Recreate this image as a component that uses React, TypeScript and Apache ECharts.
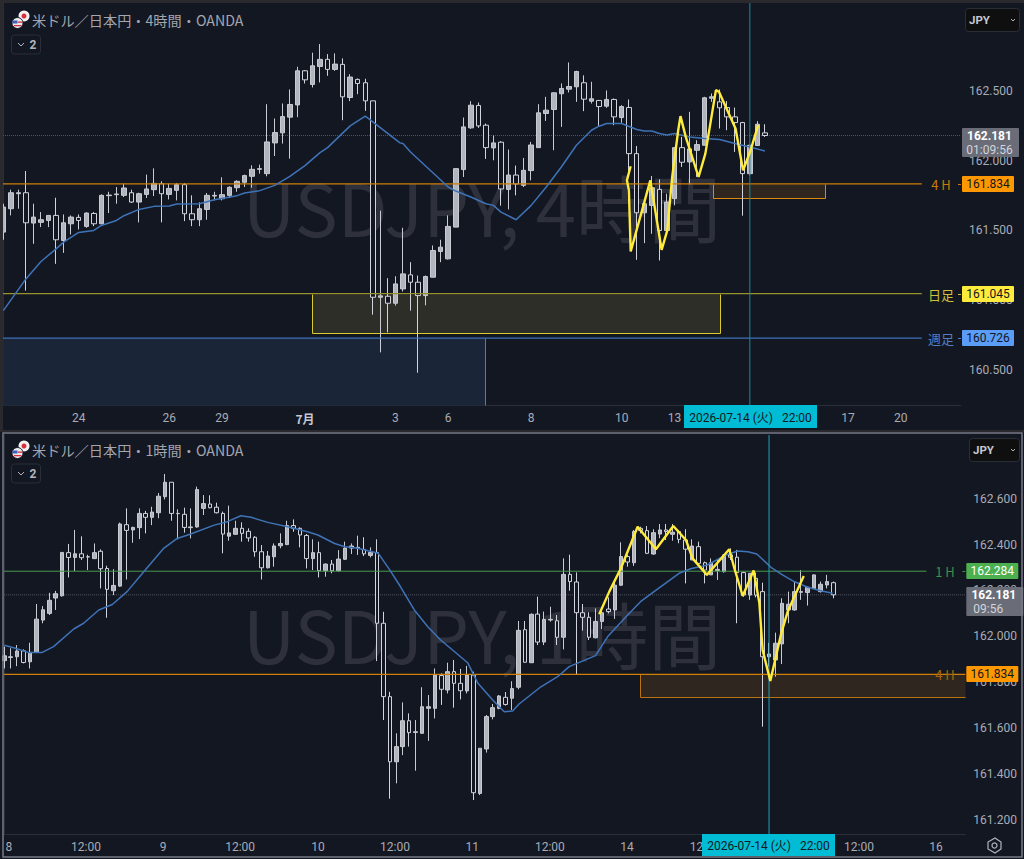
import React, { useEffect, useRef } from "react";
import * as echarts from "echarts";

const high4h = [161.691,161.792,161.792,161.926,161.691,161.631,161.607,161.734,161.614,161.607,
161.614,161.629,161.631,161.758,161.777,161.811,161.835,161.792,161.770,161.900,
161.945,161.852,161.835,161.840,161.840,161.751,161.701,161.768,161.777,161.881,
161.816,161.859,161.900,161.967,161.972,162.406,162.303,162.411,162.512,162.675,
162.651,162.776,162.838,162.766,162.771,162.735,162.622,162.591,162.589,162.430,
161.641,161.156,161.170,161.518,161.271,161.175,161.175,161.391,161.432,161.607,
161.943,162.310,162.428,162.418,162.267,162.181,162.140,162.080,161.965,162.020,
162.135,162.406,162.459,162.490,162.555,162.706,162.646,162.613,162.567,162.435,
162.505,162.447,162.399,162.440,162.106,161.691,161.890,161.866,161.763,162.099,
162.171,162.351,162.147,162.459,162.483,162.512,162.428,162.382,162.279,162.111,
162.284,162.262];
const open4h = [161.487,161.655,161.763,161.770,161.552,161.557,161.571,161.607,161.427,161.547,
161.593,161.528,161.621,161.547,161.749,161.756,161.751,161.770,161.703,161.758,
161.792,161.835,161.758,161.787,161.828,161.619,161.576,161.650,161.746,161.727,
161.751,161.806,161.845,161.888,161.938,161.907,162.128,162.200,162.313,162.401,
162.646,162.548,162.677,162.728,162.656,162.692,162.454,162.584,162.560,162.430,
161.019,161.026,160.976,161.079,161.180,161.127,161.031,161.163,161.348,161.295,
161.523,161.936,162.236,162.397,162.255,162.092,162.133,161.794,161.897,161.823,
161.929,162.094,162.339,162.368,162.481,162.514,162.531,162.560,162.428,162.433,
162.392,162.440,162.310,162.382,162.051,161.626,161.679,161.794,161.499,161.727,
162.094,161.991,162.075,162.111,162.449,162.423,162.382,162.315,162.274,161.907,
162.109,162.200];
const close4h = [161.667,161.770,161.770,161.554,161.595,161.576,161.607,161.432,161.554,161.595,
161.571,161.624,161.547,161.751,161.753,161.761,161.804,161.703,161.763,161.797,
161.837,161.763,161.801,161.828,161.619,161.576,161.655,161.751,161.751,161.756,
161.809,161.852,161.893,161.938,161.943,162.135,162.202,162.317,162.404,162.646,
162.581,162.682,162.728,162.656,162.694,162.459,162.601,162.555,162.430,161.019,
161.029,160.976,161.115,161.187,161.127,161.031,161.168,161.355,161.379,161.528,
161.943,162.243,162.399,162.250,162.094,162.128,161.797,161.897,161.833,161.931,
162.113,162.344,162.363,162.488,162.519,162.533,162.641,162.442,162.445,162.389,
162.440,162.315,162.389,162.051,161.626,161.691,161.806,161.499,161.703,162.094,
161.989,162.085,162.116,162.452,162.459,162.380,162.315,162.274,161.907,162.111,
162.262,162.181];
const low4h = [161.432,161.607,161.655,161.067,161.403,161.523,161.523,161.259,161.338,161.470,
161.506,161.518,161.530,161.542,161.624,161.691,161.739,161.696,161.557,161.732,
161.746,161.557,161.722,161.715,161.566,161.530,161.530,161.576,161.715,161.715,
161.732,161.777,161.811,161.806,161.907,161.888,162.034,162.123,162.015,162.313,
162.555,162.526,162.562,162.610,162.646,162.291,162.428,162.478,162.358,160.894,
160.623,160.767,160.959,161.060,160.923,160.477,160.961,161.163,161.271,161.290,
161.523,161.883,162.229,162.236,162.013,162.003,161.677,161.650,161.751,161.811,
161.859,162.094,162.286,162.075,162.243,162.490,162.423,162.356,162.411,162.243,
162.380,162.255,162.272,161.919,161.288,161.408,161.475,161.283,161.487,161.679,
161.955,161.830,161.883,162.111,162.423,162.231,162.219,162.063,161.605,161.895,
162.106,162.171];

const high1h = [161.955,161.948,161.962,161.943,161.972,162.141,162.132,162.190,162.198,162.366,
162.403,162.464,162.436,162.356,162.405,162.379,162.308,162.293,162.496,162.558,
162.478,162.558,162.547,162.565,162.625,162.708,162.672,162.554,162.561,162.558,
162.653,162.616,162.615,162.583,162.544,162.570,162.504,162.497,162.471,162.437,
162.398,162.372,162.405,162.449,162.504,162.510,162.475,162.446,162.423,162.413,
162.318,162.333,162.376,162.413,162.405,162.439,162.432,162.388,162.423,162.107,
161.758,161.577,161.712,161.664,161.635,161.778,161.744,161.860,161.839,161.885,
161.897,161.858,161.871,161.846,161.512,161.657,161.705,161.744,161.757,161.804,
162.067,162.067,162.100,162.173,162.108,162.129,162.093,162.340,162.356,162.279,
162.141,162.105,162.122,162.115,162.170,162.239,162.410,162.355,162.464,162.478,
162.481,162.467,162.490,162.490,162.490,162.464,162.467,162.423,162.413,162.326,
162.340,162.333,162.359,162.384,162.377,162.282,162.275,162.278,162.234,161.972,
162.016,162.166,162.195,162.239,162.289,162.217,162.270,162.239,162.268,162.239];
const open1h = [161.894,161.908,161.911,161.937,161.889,161.930,162.071,162.100,162.167,162.177,
162.365,162.344,162.360,162.346,162.339,162.371,162.296,162.199,162.219,162.487,
162.464,162.474,162.536,162.519,162.539,162.609,162.672,162.535,162.532,162.474,
162.477,162.558,162.577,162.563,162.536,162.437,162.445,162.471,162.458,162.432,
162.369,162.299,162.347,162.395,162.400,162.483,162.471,162.440,162.339,162.365,
162.286,162.315,162.286,162.336,162.385,162.385,162.379,162.353,162.365,162.057,
161.737,161.453,161.519,161.632,161.581,161.577,161.686,161.686,161.829,161.766,
161.846,161.795,161.762,161.831,161.315,161.509,161.650,161.686,161.734,161.730,
161.778,162.029,161.885,162.097,161.975,162.071,162.068,161.996,162.270,162.237,
162.103,162.083,161.994,162.065,162.119,162.115,162.223,162.348,162.321,162.471,
162.461,162.359,162.446,162.464,162.445,162.457,162.420,162.333,162.391,162.321,
162.268,162.287,162.282,162.355,162.345,162.278,162.180,162.253,162.195,161.911,
161.897,161.967,162.115,162.115,162.192,162.191,162.209,162.195,162.224,162.234];
const close1h = [161.915,161.911,161.936,161.886,161.930,162.075,162.116,162.157,162.186,162.366,
162.344,162.360,162.343,162.347,162.365,162.295,162.205,162.222,162.490,162.462,
162.475,162.536,162.519,162.542,162.611,162.672,162.536,162.536,162.475,162.477,
162.640,162.579,162.561,162.539,162.446,162.451,162.471,162.449,162.429,162.369,
162.299,162.350,162.394,162.405,162.483,162.471,162.442,162.339,162.365,162.286,
162.315,162.286,162.337,162.385,162.394,162.388,162.360,162.366,162.057,161.737,
161.453,161.519,161.632,161.580,161.584,161.693,161.693,161.831,161.769,161.846,
161.795,161.763,161.831,161.318,161.512,161.650,161.689,161.740,161.703,161.772,
162.026,161.887,162.096,161.975,162.074,162.074,161.996,162.270,162.239,162.103,
162.083,161.996,162.065,162.103,162.108,162.223,162.348,162.324,162.457,162.461,
162.362,162.452,162.464,162.457,162.454,162.423,162.380,162.394,162.318,162.289,
162.321,162.292,162.355,162.345,162.278,162.180,162.275,162.180,161.911,161.923,
161.970,162.144,162.140,162.195,162.195,162.214,162.268,162.227,162.239,162.181];
const low1h = [161.860,161.860,161.870,161.882,161.860,161.929,162.057,162.093,162.115,162.173,
162.257,162.285,162.333,162.289,162.337,162.209,162.081,162.180,162.216,162.248,
162.408,162.424,162.449,162.485,162.515,162.597,162.504,162.423,162.452,162.427,
162.474,162.529,162.558,162.536,162.362,162.417,162.442,162.413,162.413,162.347,
162.248,162.296,162.304,162.384,162.398,162.456,162.388,162.296,162.289,162.257,
162.260,162.275,162.282,162.333,162.359,162.355,162.350,162.344,161.892,161.635,
161.292,161.359,161.482,161.519,161.414,161.577,161.544,161.642,161.701,161.751,
161.689,161.725,161.751,161.286,161.308,161.493,161.638,161.682,161.698,161.679,
161.769,161.885,161.885,161.962,161.962,162.064,161.962,161.943,162.199,161.833,
162.025,161.984,161.991,162.032,162.100,162.076,162.220,162.304,162.307,162.449,
162.359,162.355,162.428,162.420,162.417,162.406,162.231,162.333,162.307,162.231,
162.268,162.246,162.278,162.333,162.057,162.173,162.159,162.170,161.606,161.868,
161.824,161.879,162.057,162.112,162.159,162.134,162.207,162.191,162.209,162.166];

const maIdx4h = [0,3,5,7,8,10,12,13,15,16,18,20,22,23,26,28,31,32,34,36,38,40,42,43,46,48,49,52.6,53,54,59,60,62,64,65,66,68,70,72,74,76,78,79,80,82,84,85,86,87,88,89,91,93,95,97,99,101];
const maVal4h = [160.923,161.151,161.276,161.367,161.415,161.485,161.499,161.535,161.571,161.605,161.650,161.672,161.674,161.689,161.691,161.720,161.749,161.768,161.785,161.823,161.888,161.965,162.058,162.094,162.250,162.320,162.279,162.128,162.123,162.063,161.811,161.782,161.739,161.691,161.679,161.631,161.576,161.679,161.811,161.955,162.111,162.219,162.248,162.267,162.267,162.224,162.214,162.214,162.195,162.185,162.195,162.171,162.159,162.152,162.123,162.099,162.070];
const zigIdx4h = [83.19,82.7,82.96,83.2,85.8,87.3,88.05,88.7,89.5,89.8,90.5,92.2,93.1,94.5,94.9,97.1,98.1,99.1,100.1];
const zigVal4h = [161.960,161.859,161.787,161.348,161.859,161.360,161.499,161.883,162.219,162.320,162.171,161.883,162.051,162.507,162.495,162.231,161.931,162.075,162.255];

const maIdx1h = [0,1.72,3.8,5.83,7.66,10.8,12.34,14.7,16.8,19.1,21.7,24.8,26.9,29,32.66,34.7,36.8,38.4,41,44.1,47.2,48.8,51.4,53,55,58.2,60,61.7,63.8,65.9,67.9,72.1,73.7,76,77.8,79.1,80.1,83.5,86.1,87.9,92,93.9,97,99,101.1,105,106.8,109.4,112.3,114.1,115.7,117.1,119.3,120.9,122.9,125,127.2,128.9];
const maVal1h = [161.961,161.948,161.929,161.929,161.955,162.032,162.057,162.115,162.139,162.195,162.282,162.384,162.427,162.446,162.485,162.500,162.526,162.519,162.497,162.478,162.456,162.442,162.405,162.391,162.384,162.362,162.289,162.214,162.115,162.042,161.984,161.885,161.795,161.722,161.671,161.674,161.705,161.780,161.824,161.868,161.916,161.999,162.093,162.151,162.195,162.275,162.295,162.311,162.355,162.372,162.369,162.359,162.301,162.271,162.239,162.214,162.198,162.188];
const zigIdx1h = [92.58,94.14,95.95,98.55,101.4,104.1,106.07,107.1,109.33,112.81,113.6,114.9,116.6,117.5,118,119.2,120.9,121.9,124.4];
const zigVal1h = [162.096,162.195,162.297,162.478,162.380,162.481,162.420,162.340,162.268,162.380,162.297,162.176,162.287,162.144,161.940,161.805,162.013,162.108,162.263];

const xTickIdx4h = [10,22,29,40,52,59,70,82,89,112,119];
const xTickText4h = ["24","26","29","7月","3","6","8","10","13","17","20"];
const xTickIdx1h = [0.7,12.7,24.7,36.7,48.8,60.8,72.8,84.9,96.9,109,133,145];
const xTickText1h = ["8","12:00","9","12:00","10","12:00","11","12:00","14","12:00","12:00","16"];
const yTicks4h = [160.5,161,161.5,162,162.5];
const yTicks1h = [161.2,161.4,161.6,161.8,162,162.2,162.4,162.6];

const H4 = 161.834, D1 = 161.045, W1 = 160.726, H1 = 162.284, LAST = 162.181;
const D1_LOW = 160.764, H4_LOW_TOP = 161.73, H4_LOW_BOT = 161.734;

const BG = "#131722";
const ORANGE = "#cf7f08";
const OLIVE = "#97922c";
const BLUE = "#3f72ba";
const GREEN = "#4a9a4e";
const MA = "#3f73b8";
const ZIG = "#ffeb3b";
const CURSOR_T = "#1f8a98";
const CURSOR_B = "#1fa3b8";
const FONT = "Roboto, 'Noto Sans CJK JP', sans-serif";
const CJK = "'Noto Sans CJK JP', sans-serif";

const PANE = [
  { left: 3, top: 3, right: 961, bottom: 405, xMin: -0.04, xMax: 127.0, yMin: 160.245, yMax: 163.133, body: 5 },
  { left: 4, top: 435, right: 965.3, bottom: 834, xMin: -0.05, xMax: 149.54, yMin: 161.138, yMax: 162.878, body: 4 },
];

type Tag = { price: number; lines: string[]; bg: string; fg: string; label?: string; labelColor?: string; labelX?: number; dash?: boolean };

const tags4h: Tag[] = [
  { price: H4, lines: ["161.834"], bg: "#ff9800", fg: "#131722", label: "4 H", labelColor: "#c77c0a", labelX: 941, dash: true },
  { price: D1, lines: ["161.045"], bg: "#ffeb3b", fg: "#131722", label: "日足", labelColor: "#cfc13a", labelX: 941, dash: true },
  { price: W1, lines: ["160.726"], bg: "#5b9cf6", fg: "#131722", label: "週足", labelColor: "#4f80c8", labelX: 941, dash: true },
  { price: LAST, lines: ["162.181", "01:09:56"], bg: "#6a6d78", fg: "#ffffff" },
];
const tags1h: Tag[] = [
  { price: H1, lines: ["162.284"], bg: "#4caf50", fg: "#ffffff", label: "1 H", labelColor: "#3f8f43", labelX: 945, dash: true },
  { price: H4, lines: ["161.834"], bg: "#ff9800", fg: "#131722", label: "4 H", labelColor: "#a8690d", labelX: 945 },
  { price: LAST, lines: ["162.181", "09:56"], bg: "#6a6d78", fg: "#ffffff" },
];

type Zone = { x0: number; x1: number; top: number; bot: number; fill: string; stroke: string; edges: string };
const zones4h: Zone[] = [
  { x0: -0.04, x1: 63.93, top: W1, bot: 160.245, fill: "#1a2538", stroke: "#4a7cc4", edges: "r" },
  { x0: 40.94, x1: 95.05, top: D1, bot: D1_LOW, fill: "#2e2e28", stroke: "#d9cb2c", edges: "lrb" },
  { x0: 94.06, x1: 109, top: H4, bot: H4_LOW_TOP, fill: "#2f2620", stroke: "#d98a0c", edges: "lrb" },
];
const zones1h: Zone[] = [
  { x0: 98.9, x1: 149.54, top: H4, bot: H4_LOW_BOT, fill: "#2f2620", stroke: "#b8730f", edges: "lb" },
];

function zoneSeries(zones: Zone[], pane: number) {
  return {
    type: "custom", xAxisIndex: pane, yAxisIndex: pane, z: 1, silent: true,
    data: zones.map((z) => [z.x0, z.x1, z.top, z.bot]),
    encode: { x: [0, 1], y: [2, 3] },
    renderItem: (p: any, api: any) => {
      const a = api.coord([api.value(0), api.value(2)]);
      const b = api.coord([api.value(1), api.value(3)]);
      const z = zones[p.dataIndex];
      const x0 = Math.round(a[0]) + 0.5, y0 = Math.round(a[1]) + 0.5;
      const x1 = Math.round(b[0]) + 0.5, y1 = Math.round(b[1]) + 0.5;
      const children: any[] = [
        { type: "rect", shape: { x: x0, y: y0, width: x1 - x0, height: y1 - y0 }, style: { fill: z.fill } },
      ];
      const edge = (x1a: number, y1a: number, x2a: number, y2a: number) =>
        children.push({ type: "line", shape: { x1: x1a, y1: y1a, x2: x2a, y2: y2a }, style: { stroke: z.stroke, lineWidth: 1 } });
      if (z.edges.includes("l")) edge(x0, y0, x0, y1);
      if (z.edges.includes("r")) edge(x1, y0, x1, y1);
      if (z.edges.includes("b")) edge(x0, y1, x1, y1);
      return { type: "group", children };
    },
  };
}

function tagSeries(tags: Tag[], pane: number) {
  const right = PANE[pane].right;
  return {
    type: "custom", xAxisIndex: pane, yAxisIndex: pane, z: 8, silent: true, clip: false,
    data: tags.map((t) => [PANE[pane].xMin, t.price]),
    encode: { x: 0, y: 1 },
    renderItem: (p: any, api: any) => {
      const t = tags[p.dataIndex];
      const y = Math.round(api.coord([api.value(0), api.value(1)])[1]);
      const x = right + 1;
      const two = t.lines.length === 2;
      const w = two ? 57 : 52;
      const children: any[] = [
        { type: "rect", shape: { x, y: y - 8, width: w, height: two ? 29 : 16, r: 1 }, style: { fill: t.bg } },
      ];
      t.lines.forEach((s, i) => {
        const leftAlign = two && pane === 1 && i === 1;
        children.push({
          type: "text",
          style: {
            x: leftAlign ? x + 7 : x + (two ? w - 2 : 52) / 2,
            y: y + i * 13.5,
            text: s, fill: i === 1 ? "#d1d4dc" : t.fg,
            font: `${i === 0 && two ? "bold " : ""}12px ${FONT}`,
            align: leftAlign ? "left" : "center", verticalAlign: "middle",
          },
        });
      });
      if (t.label) {
        children.push({
          type: "text",
          style: { x: t.labelX, y, text: t.label, fill: t.labelColor, font: `13px ${CJK}`, align: "center", verticalAlign: "middle" },
        });
      }
      if (t.dash) {
        children.push({ type: "line", shape: { x1: right - 3, y1: y + 0.5, x2: right, y2: y + 0.5 }, style: { stroke: t.labelColor, lineWidth: 1 } });
      }
      return { type: "group", children };
    },
  };
}

function line(pane: number, pts: number[][], color: string, width: number, z = 4, type = "solid") {
  return {
    type: "line", xAxisIndex: pane, yAxisIndex: pane, data: pts, symbol: "none", z, silent: true,
    lineStyle: { color, width, type }, clip: true,
  };
}

function candles(pane: number, o: number[], c: number[], l: number[], h: number[]) {
  return {
    type: "candlestick", xAxisIndex: pane, yAxisIndex: pane, z: 3, silent: true,
    barWidth: PANE[pane].body,
    encode: { x: 0, y: [1, 2, 3, 4] },
    data: o.map((v, i) => [i, v, c[i], l[i], h[i]]),
    itemStyle: { color: "#b2b5be", color0: BG, borderColor: "#c9cbd3", borderColor0: "#d1d4dc", borderWidth: 1 },
  };
}

function header(dy: number, tf: string, yBtn: number, xWm: number, yWm: number, wmTf: string) {
  return [
    { type: "text", z: 0, x: xWm, y: yWm, silent: true, style: { text: `USDJPY, ${wmTf}`, font: `72.5px ${CJK}`, fill: "#2e313c", textAlign: "center", textVerticalAlign: "middle" } },
    { type: "circle", z: 20, shape: { cx: 24, cy: 16 + dy, r: 5.5 }, style: { fill: "#f2f2f2" } },
    { type: "circle", z: 20, shape: { cx: 24, cy: 16 + dy, r: 2.5 }, style: { fill: "#d8303a" } },
    { type: "circle", z: 21, shape: { cx: 17.5, cy: 23 + dy, r: 5.5 }, style: { fill: "#e8e8ee", stroke: BG, lineWidth: 1 } },
    { type: "rect", z: 22, shape: { x: 12.5, y: 20.5 + dy, width: 5, height: 3 }, style: { fill: "#3a62b8" } },
    { type: "rect", z: 22, shape: { x: 14, y: 25 + dy, width: 7.5, height: 1.3 }, style: { fill: "#d8303a" } },
    { type: "rect", z: 22, shape: { x: 18, y: 21.5 + dy, width: 4.5, height: 1.3 }, style: { fill: "#d8303a" } },
    { type: "text", z: 20, x: 32, y: 20 + dy, style: { text: `米ドル／日本円・${tf}・OANDA`, font: `14.2px ${CJK}`, fill: "#a3a6af", textVerticalAlign: "middle" } },
    { type: "rect", z: 20, shape: { x: 11.5, y: yBtn, width: 29, height: 19, r: 3 }, style: { fill: BG, stroke: "#2a2e39", lineWidth: 1 } },
    { type: "polyline", z: 21, shape: { points: [[18, yBtn + 8], [21, yBtn + 11], [24, yBtn + 8]] }, style: { stroke: "#b2b5be", lineWidth: 1, fill: "none" } },
    { type: "text", z: 21, x: 33, y: yBtn + 10, style: { text: "2", font: `bold 12px ${FONT}`, fill: "#b2b5be", textAlign: "center", textVerticalAlign: "middle" } },
  ];
}

function jpyButton(x: number, y: number, w: number) {
  return [
    { type: "rect", z: 20, shape: { x: x + 0.5, y: y + 0.5, width: w, height: 23, r: 3 }, style: { fill: "#0f0f0f", stroke: "#2a2e39", lineWidth: 1 } },
    { type: "text", z: 21, x: x + 4, y: y + 12, style: { text: "JPY", font: `bold 11.5px ${FONT}`, fill: "#c5c8d0", textVerticalAlign: "middle" } },
    { type: "polyline", z: 21, shape: { points: [[x + w - 8, y + 11], [x + w - 6, y + 13], [x + w - 4, y + 11]] }, style: { stroke: "#b2b5be", lineWidth: 1, fill: "none" } },
  ];
}

function timeTag(x: number, y: number, w: number, h: number) {
  return [
    { type: "rect", z: 30, shape: { x, y, width: w, height: h }, style: { fill: "#00bcd4" } },
    { type: "text", z: 31, x: x + w / 2, y: y + h / 2 + 1, style: { text: "2026-07-14 (火)   22:00", font: `12px ${FONT}`, fill: "#131722", textAlign: "center", textVerticalAlign: "middle" } },
  ];
}

const hex = [[995, 838], [1001, 842], [1001, 849], [995, 853], [988, 849], [988, 842]];

export default function App() {
  const ref = useRef<HTMLDivElement>(null);
  useEffect(() => {
    const chart = echarts.init(ref.current!, undefined, { renderer: "svg" });
    const axisText = { color: "#a9acb5", fontSize: 12, fontFamily: FONT };
    const xAxis = [0, 1].map((i) => {
      const idx = i === 0 ? xTickIdx4h : xTickIdx1h;
      const txt = i === 0 ? xTickText4h : xTickText1h;
      return {
        type: "value", gridIndex: i, min: PANE[i].xMin, max: PANE[i].xMax, position: "bottom",
        axisLine: { onZero: false, lineStyle: { color: "#2a2e39" } },
        axisTick: { show: false }, splitLine: { show: false },
        axisLabel: {
          ...axisText, margin: 7, customValues: idx,
          formatter: (v: number) => {
            const s = txt[idx.indexOf(v)] ?? "";
            return s === "7月" ? `{b|${s}}` : s;
          },
          rich: { b: { color: "#c5c8d0", fontWeight: "bold", fontSize: 12, fontFamily: CJK } },
        },
      };
    });
    const yAxis = [0, 1].map((i) => ({
      type: "value", gridIndex: i, min: PANE[i].yMin, max: PANE[i].yMax, position: "right", scale: true,
      axisLine: { show: true, lineStyle: { color: "#2a2e39" } },
      axisTick: { show: false }, splitLine: { show: false },
      axisLabel: { ...axisText, margin: 8, customValues: i === 0 ? yTicks4h : yTicks1h, formatter: (v: number) => v.toFixed(3) },
    }));
    const [t, b] = PANE;
    chart.setOption({
      animation: false,
      backgroundColor: BG,
      grid: PANE.map((p) => ({ left: p.left, top: p.top, width: p.right - p.left, height: p.bottom - p.top, containLabel: false })),
      xAxis, yAxis,
      series: [
        zoneSeries(zones4h, 0),
        candles(0, open4h, close4h, low4h, high4h),
        line(0, [[t.xMin, LAST], [t.xMax, LAST]], "#50535e", 1, 2, "dotted"),
        line(0, [[t.xMin, H4], [121.8, H4]], ORANGE, 1.3),
        line(0, [[t.xMin, D1], [121.8, D1]], OLIVE, 1.3),
        line(0, [[t.xMin, W1], [121.8, W1]], BLUE, 1.3),
        line(0, maIdx4h.map((x, i) => [x, maVal4h[i]]), MA, 1.5, 5),
        line(0, [[99, t.yMin], [99, t.yMax]], CURSOR_T, 1, 5),
        line(0, zigIdx4h.map((x, i) => [x, zigVal4h[i]]), ZIG, 2.4, 6),
        tagSeries(tags4h, 0),

        zoneSeries(zones1h, 1),
        candles(1, open1h, close1h, low1h, high1h),
        line(1, [[b.xMin, LAST], [b.xMax, LAST]], "#50535e", 1, 2, "dotted"),
        line(1, [[b.xMin, H4], [b.xMax, H4]], ORANGE, 1.3),
        line(1, [[b.xMin, H1], [143.5, H1]], GREEN, 1),
        line(1, maIdx1h.map((x, i) => [x, maVal1h[i]]), MA, 1.5, 5),
        line(1, [[119, b.yMin], [119, b.yMax]], CURSOR_B, 1, 5),
        line(1, zigIdx1h.map((x, i) => [x, zigVal1h[i]]), ZIG, 2.4, 6),
        tagSeries(tags1h, 1),
      ],
      graphic: {
        elements: [
          ...header(0, "4時間", 35, 482, 205, "4時間"),
          ...header(430, "1時間", 464, 482, 632, "1時間"),
          ...jpyButton(965, 8, 54),
          ...jpyButton(969, 438, 50),
          ...timeTag(684, 405, 133, 23),
          ...timeTag(702, 834, 133, 22),
          { type: "rect", z: 40, shape: { x: 0, y: 0, width: 1024, height: 3 }, style: { fill: "#2a2a2e" } },
          { type: "rect", z: 40, shape: { x: 0, y: 0, width: 3, height: 432 }, style: { fill: "#2a2a2e" } },
          { type: "rect", z: 40, shape: { x: 0, y: 430, width: 1024, height: 2 }, style: { fill: "#2a2a2e" } },
          { type: "rect", z: 40, shape: { x: 3, y: 433, width: 1019, height: 424 }, style: { fill: "none", stroke: "#787b86", lineWidth: 1.5 } },
          { type: "polygon", z: 40, shape: { points: hex }, style: { fill: "none", stroke: "#b2b5be", lineWidth: 1.2 } },
          { type: "circle", z: 40, shape: { cx: 994.5, cy: 845.5, r: 2.5 }, style: { fill: "none", stroke: "#b2b5be", lineWidth: 1.2 } },
        ],
      },
    });
    return () => chart.dispose();
  }, []);
  return <div ref={ref} style={{ position: "fixed", left: 0, top: 0, width: 1024, height: 859 }} />;
}
